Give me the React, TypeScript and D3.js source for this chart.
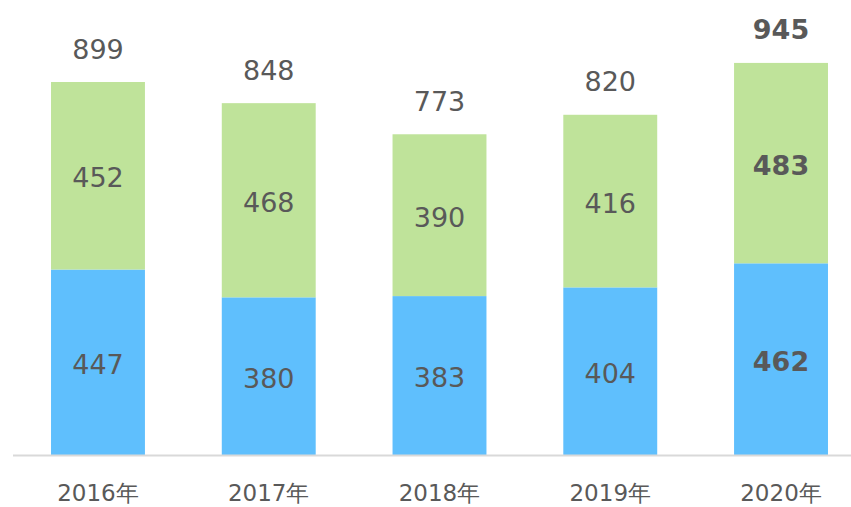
import React from "react";
import * as d3 from "d3";

const years = ["2016年", "2017年", "2018年", "2019年", "2020年"];
const blueValues = [447, 380, 383, 404, 462];
const greenValues = [452, 468, 390, 416, 483];
const totals = [899, 848, 773, 820, 945];
const boldFlags = [false, false, false, false, true];

const W = 851;
const H = 507;
const BLUE = "#5FBFFD";
const GREEN = "#BFE39A";
const TEXT = "#595959";
const FONT = "'DejaVu Sans', Verdana, sans-serif";

export default function App() {
  const x = d3
    .scaleBand<string>()
    .domain(years)
    .range([12.6, 866.4])
    .paddingInner(0.45)
    .paddingOuter(0.225);
  const y = d3.scaleLinear().domain([0, 899]).range([455, 82]);
  const bw = x.bandwidth();

  return (
    <svg
      width={W}
      height={H}
      style={{ position: "absolute", left: 0, top: 0, background: "#fff" }}
    >
      {years.map((yr, i) => {
        const x0 = x(yr)!;
        const cx = x0 + bw / 2;
        const b = blueValues[i];
        const g = greenValues[i];
        const t = totals[i];
        const weight = boldFlags[i] ? 700 : 400;
        return (
          <g key={yr}>
            <rect x={x0} y={y(b)} width={bw} height={y(0) - y(b)} fill={BLUE} />
            <rect x={x0} y={y(b + g)} width={bw} height={y(b) - y(b + g)} fill={GREEN} />
            <text
              x={cx}
              y={(y(0) + y(b)) / 2 + 2}
              textAnchor="middle"
              dominantBaseline="central"
              fontFamily={FONT}
              fontSize={27}
              fontWeight={weight}
              fill={TEXT}
            >
              {b}
            </text>
            <text
              x={cx}
              y={(y(b) + y(b + g)) / 2 + 2}
              textAnchor="middle"
              dominantBaseline="central"
              fontFamily={FONT}
              fontSize={27}
              fontWeight={weight}
              fill={TEXT}
            >
              {g}
            </text>
            <text
              x={cx}
              y={y(b + g) - 33}
              textAnchor="middle"
              dominantBaseline="central"
              fontFamily={FONT}
              fontSize={27}
              fontWeight={weight}
              fill={TEXT}
            >
              {t}
            </text>
            <text
              x={cx}
              y={493}
              textAnchor="middle"
              dominantBaseline="central"
              fontFamily={FONT}
              fontSize={23}
              fill={TEXT}
            >
              {yr}
            </text>
          </g>
        );
      })}
      <line x1={13} x2={W} y1={455.5} y2={455.5} stroke="#D9D9D9" strokeWidth={2} />
    </svg>
  );
}
